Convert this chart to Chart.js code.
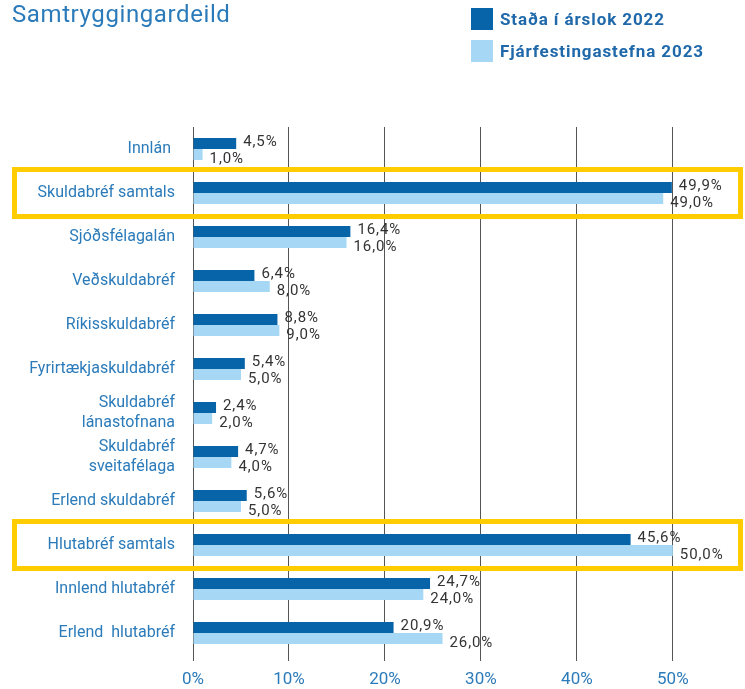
<!DOCTYPE html>
<html>
<head>
<meta charset="utf-8">
<script src="https://cdn.jsdelivr.net/npm/chart.js@4.4.1/dist/chart.umd.min.js"></script>
<style>
  body { margin: 0; background: #fff; }
  #wrap { position: relative; width: 745px; height: 689px; }
  #title { position: absolute; left: 12px; top: 0; font: 24px Roboto, sans-serif; letter-spacing: 0.6px; color: #2b7bba; }
  #legend { position: absolute; left: 471px; top: 8px; }
  .item { display: flex; align-items: center; height: 22px; margin-bottom: 10px; font: bold 17px Roboto, sans-serif; letter-spacing: 0.9px; color: #1f69ab; }
  .box { width: 22px; height: 22px; margin-right: 7px; }
</style>
</head>
<body>
<div id="wrap">
  <canvas id="graf" width="745" height="689"></canvas>
  <div id="title">Samtryggingardeild</div>
  <div id="legend"></div>
</div>
<script>
const categories = [
  'Innlán ',
  'Skuldabréf samtals',
  'Sjóðsfélagalán',
  'Veðskuldabréf',
  'Ríkisskuldabréf',
  'Fyrirtækjaskuldabréf',
  ['Skuldabréf', 'lánastofnana'],
  ['Skuldabréf', 'sveitafélaga'],
  'Erlend skuldabréf',
  'Hlutabréf samtals',
  'Innlend hlutabréf',
  'Erlend  hlutabréf',
];
const stada2022 = [4.5, 49.9, 16.4, 6.4, 8.8, 5.4, 2.4, 4.7, 5.6, 45.6, 24.7, 20.9];
const stefna2023 = [1.0, 49.0, 16.0, 8.0, 9.0, 5.0, 2.0, 4.0, 5.0, 50.0, 24.0, 26.0];
const highlighted = [1, 9];

const dark = '#0864a8';
const light = '#a6d8f5';
const blue = '#2b7bba';

const fmt = (v) => v.toFixed(1).replace('.', ',') + '%';

const annotate = {
  id: 'annotate',
  afterDraw(chart) {
    const { ctx } = chart;
    const y = chart.scales.y;
    const half = y.height / categories.length / 2 + 1.5;
    ctx.save();
    ctx.strokeStyle = '#ffcc00';
    ctx.lineWidth = 5;
    highlighted.forEach((i) => {
      const c = y.getPixelForValue(i);
      ctx.strokeRect(14.5, c - half, chart.width - 19, half * 2);
    });
    ctx.font = '15px Roboto, sans-serif';
    ctx.letterSpacing = '0.9px';
    ctx.fillStyle = '#333';
    ctx.textBaseline = 'middle';
    chart.data.datasets.forEach((ds, i) => {
      chart.getDatasetMeta(i).data.forEach((bar, j) => {
        ctx.fillText(fmt(ds.data[j]), bar.x + 7, bar.y + (i === 0 ? -1 : 5));
      });
    });
    ctx.restore();
  },
};

const data = {
  labels: categories,
  datasets: [{
    label: 'Staða í árslok 2022',
    backgroundColor: dark,
    data: stada2022,
  },
  {
    label: 'Fjárfestingastefna 2023',
    backgroundColor: light,
    data: stefna2023,
  }],
};

const options = {
  indexAxis: 'y',
  responsive: false,
  animation: false,
  layout: { padding: { top: 127, right: 5, left: 0, bottom: 0 } },
  datasets: { bar: { categoryPercentage: 0.5, barPercentage: 1 } },
  plugins: { legend: { display: false }, tooltip: { enabled: false } },
  scales: {
    x: {
      min: 0,
      max: 57,
      z: 1,
      afterBuildTicks: (s) => { s.ticks = s.ticks.filter((t) => t.value % 10 === 0); },
      afterFit: (s) => { s.height = 34; },
      grid: { color: '#555', tickLength: 6 },
      border: { display: false },
      ticks: {
        stepSize: 10,
        padding: 9,
        color: blue,
        font: { family: 'Roboto', size: 17 },
        callback: (v) => v + '%',
      },
    },
    y: {
      afterFit: (s) => { s.width = 193; },
      grid: { display: false, drawTicks: false },
      border: { display: false },
      ticks: {
        padding: 18,
        color: blue,
        font: { family: 'Roboto', size: 16 },
      },
    },
  },
};

const chart = new Chart(document.getElementById('graf'), {
  type: 'bar', data, options, plugins: [annotate],
});

const legend = document.getElementById('legend');
chart.data.datasets.forEach((ds) => {
  const item = document.createElement('div');
  item.className = 'item';
  item.innerHTML = '<span class="box" style="background:' + ds.backgroundColor + '"></span>' + ds.label;
  legend.appendChild(item);
});
</script>
</body>
</html>
